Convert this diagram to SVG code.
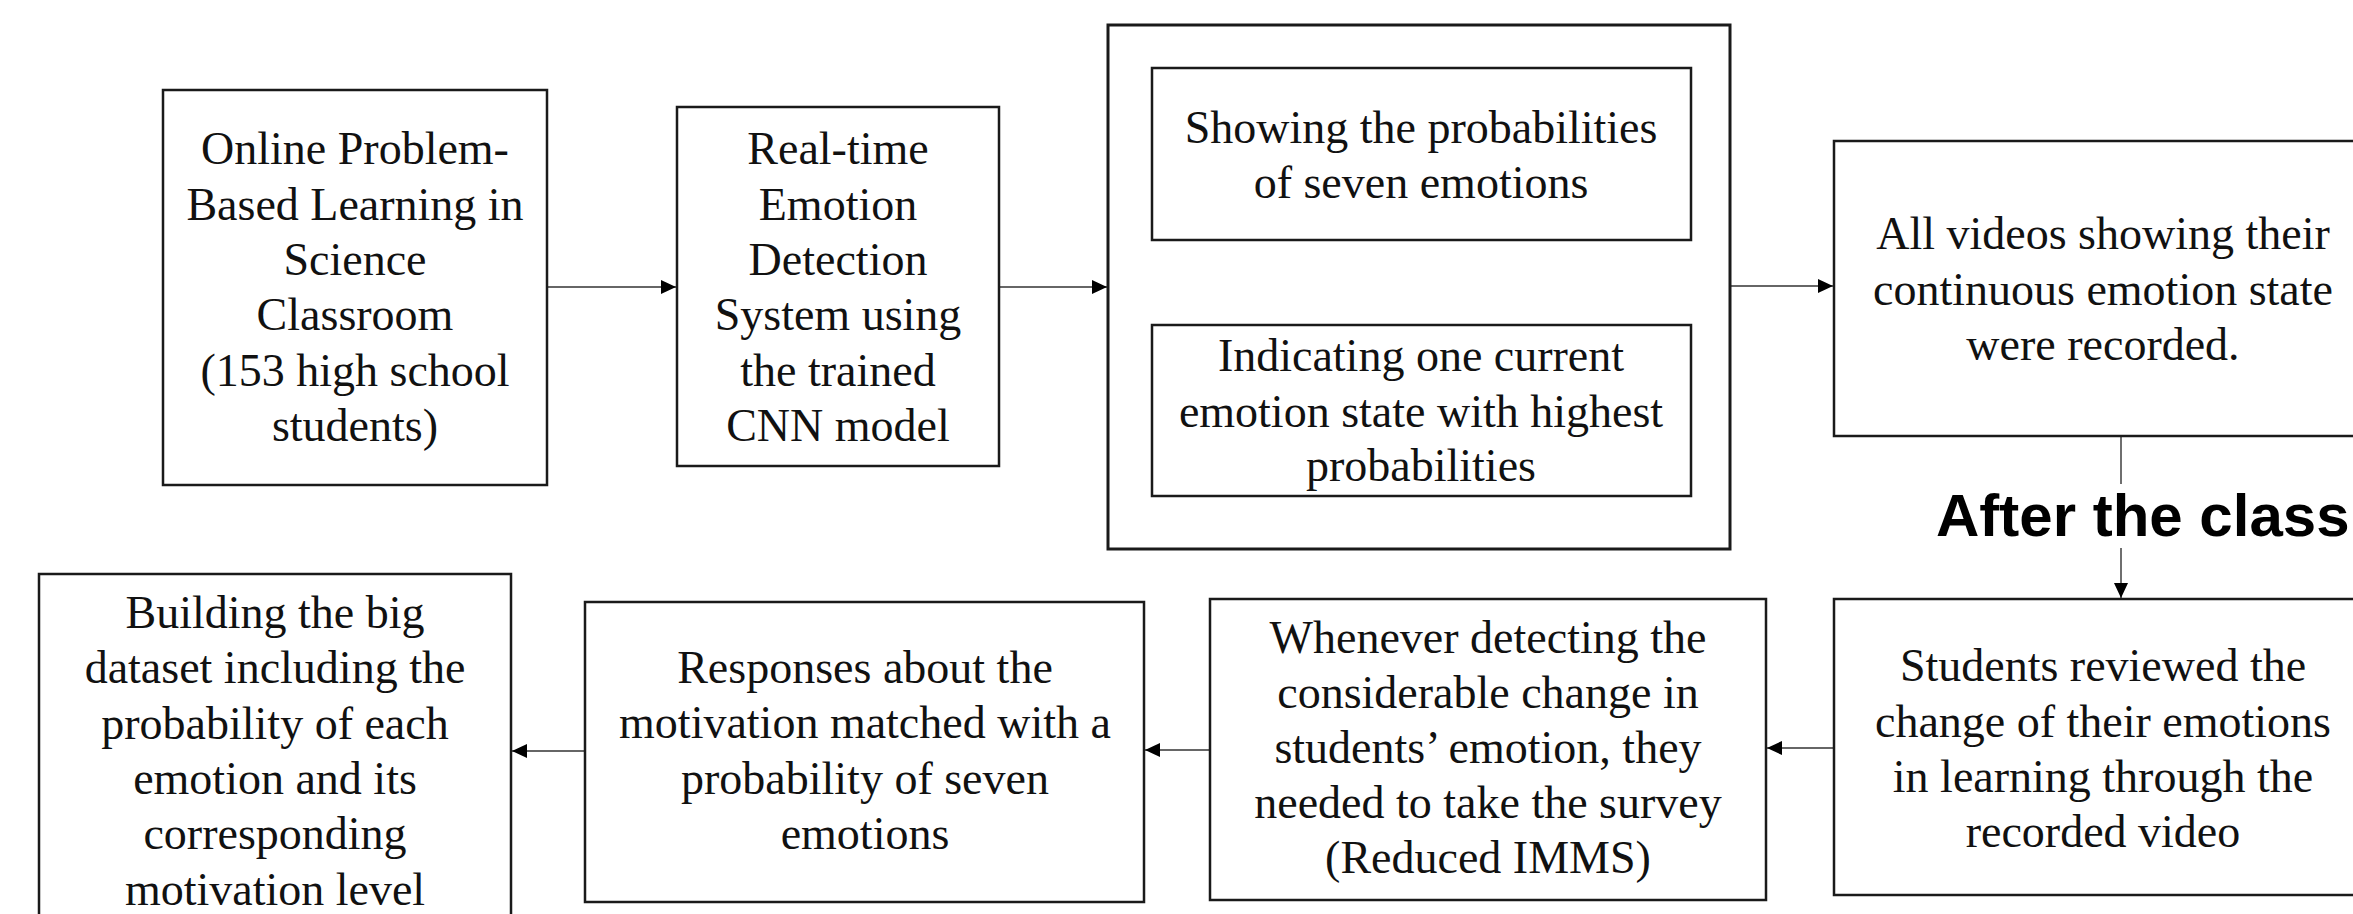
<svg xmlns="http://www.w3.org/2000/svg" width="2353" height="914" viewBox="0 0 2353 914">
<style>
.box{fill:#fff;stroke:#1a1a1a;stroke-width:2.5}
.outer{fill:#fff;stroke:#1a1a1a;stroke-width:3}
.t{font-family:"Liberation Serif","Times New Roman",serif;font-size:46px;fill:#111;text-anchor:middle}
.h{font-family:"Liberation Sans",Arial,sans-serif;font-size:60px;font-weight:bold;fill:#000}
.c{fill:none;stroke:#333;stroke-width:1.4}
</style>
<defs>
<marker id="arr" markerUnits="userSpaceOnUse" markerWidth="16" markerHeight="14" refX="15" refY="7" orient="auto">
<path d="M0,0 L15,7 L0,14 Z" fill="#000"/>
</marker>
</defs>
<rect width="2353" height="914" fill="#fff"/>

<g id="connectors">
<line class="c" x1="547" y1="287" x2="676" y2="287" marker-end="url(#arr)"/>
<line class="c" x1="999" y1="287" x2="1107" y2="287" marker-end="url(#arr)"/>
<line class="c" x1="1421" y1="240" x2="1421" y2="324" marker-end="url(#arr)"/>
<line class="c" x1="1730" y1="286" x2="1833" y2="286" marker-end="url(#arr)"/>
<path class="c" d="M2121,436 V484 M2121,548 V598" marker-end="url(#arr)"/>
<line class="c" x1="1834" y1="748" x2="1767" y2="748" marker-end="url(#arr)"/>
<line class="c" x1="1210" y1="750" x2="1145" y2="750" marker-end="url(#arr)"/>
<line class="c" x1="585" y1="751" x2="512" y2="751" marker-end="url(#arr)"/>
</g>

<g id="n1">
<rect class="box" x="163" y="90" width="384" height="395"/>
<text class="t" x="355" y="164">Online Problem-</text>
<text class="t" x="355" y="220">Based Learning in</text>
<text class="t" x="355" y="275">Science</text>
<text class="t" x="355" y="330">Classroom</text>
<text class="t" x="355" y="386">(153 high school</text>
<text class="t" x="355" y="441">students)</text>
</g>

<g id="n2">
<rect class="box" x="677" y="107" width="322" height="359"/>
<text class="t" x="838" y="164">Real-time</text>
<text class="t" x="838" y="220">Emotion</text>
<text class="t" x="838" y="275">Detection</text>
<text class="t" x="838" y="330">System using</text>
<text class="t" x="838" y="386">the trained</text>
<text class="t" x="838" y="441">CNN model</text>
</g>

<g id="n3">
<rect class="outer" x="1108" y="25" width="622" height="524"/>
</g>

<g id="n3a">
<rect class="box" x="1152" y="68" width="539" height="172"/>
<text class="t" x="1421" y="143">Showing the probabilities</text>
<text class="t" x="1421" y="198">of seven emotions</text>
</g>

<g id="n3b">
<rect class="box" x="1152" y="325" width="539" height="171"/>
<text class="t" x="1421" y="371">Indicating one current</text>
<text class="t" x="1421" y="427">emotion state with highest</text>
<text class="t" x="1421" y="481">probabilities</text>
</g>

<g id="n4">
<rect class="box" x="1834" y="141" width="540" height="295"/>
<text class="t" x="2103" y="249">All videos showing their</text>
<text class="t" x="2103" y="305">continuous emotion state</text>
<text class="t" x="2103" y="360">were recorded.</text>
</g>

<g id="label">
<text class="h" x="1936" y="536">After the class</text>
</g>

<g id="n5">
<rect class="box" x="1834" y="599" width="540" height="296"/>
<text class="t" x="2103" y="681">Students reviewed the</text>
<text class="t" x="2103" y="737">change of their emotions</text>
<text class="t" x="2103" y="792">in learning through the</text>
<text class="t" x="2103" y="847">recorded video</text>
</g>

<g id="n6">
<rect class="box" x="1210" y="599" width="556" height="301"/>
<text class="t" x="1488" y="653">Whenever detecting the</text>
<text class="t" x="1488" y="708">considerable change in</text>
<text class="t" x="1488" y="763">students’ emotion, they</text>
<text class="t" x="1488" y="818">needed to take the survey</text>
<text class="t" x="1488" y="873">(Reduced IMMS)</text>
</g>

<g id="n7">
<rect class="box" x="585" y="602" width="559" height="300"/>
<text class="t" x="865" y="683">Responses about the</text>
<text class="t" x="865" y="738">motivation matched with a</text>
<text class="t" x="865" y="794">probability of seven</text>
<text class="t" x="865" y="849">emotions</text>
</g>

<g id="n8">
<rect class="box" x="39" y="574" width="472" height="360"/>
<text class="t" x="275" y="628">Building the big</text>
<text class="t" x="275" y="683">dataset including the</text>
<text class="t" x="275" y="739">probability of each</text>
<text class="t" x="275" y="794">emotion and its</text>
<text class="t" x="275" y="849">corresponding</text>
<text class="t" x="275" y="905">motivation level</text>
</g>
</svg>
